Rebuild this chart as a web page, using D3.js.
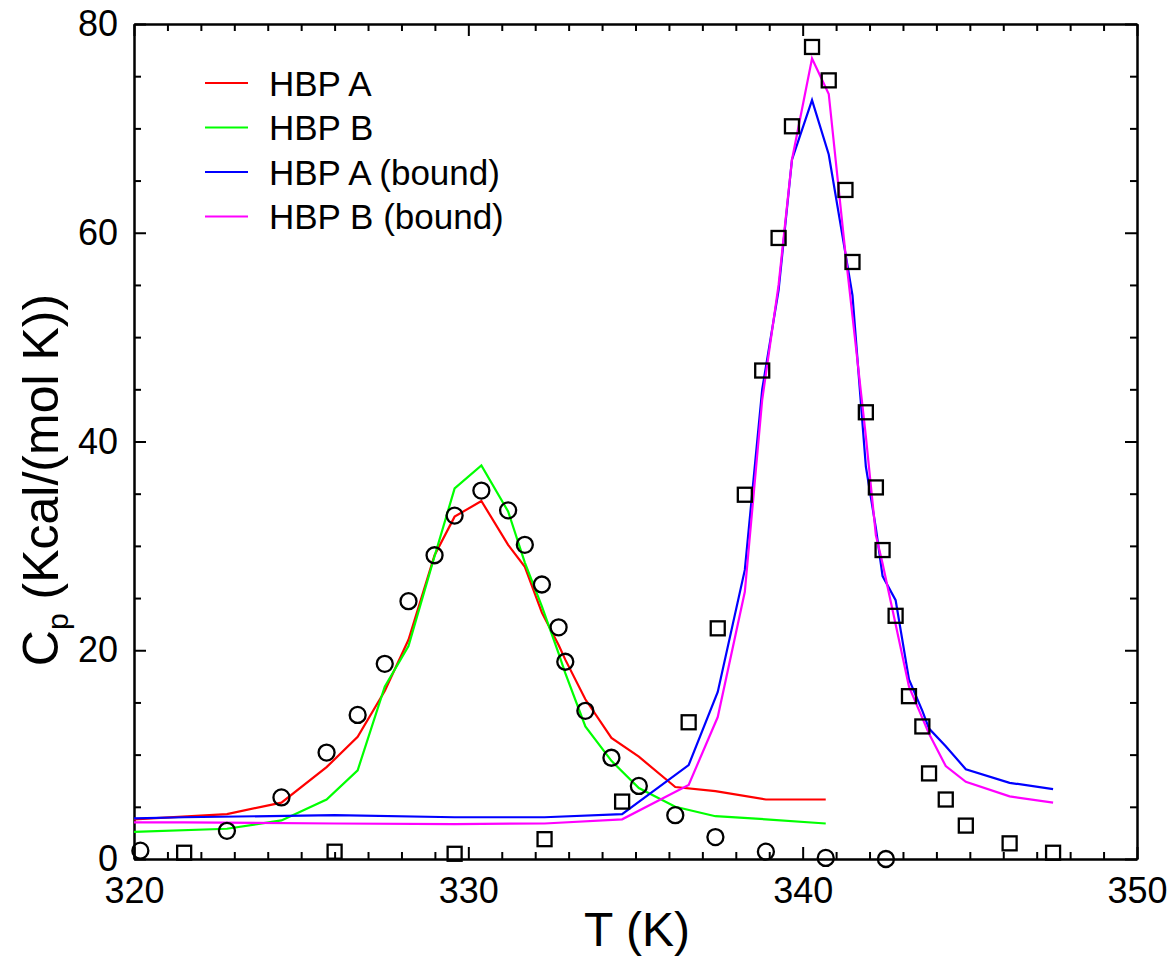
<!DOCTYPE html>
<html lang="en">
<head>
    <meta charset="UTF-8">
    <title>Cp vs T</title>
    <script src="https://d3js.org/d3.v7.min.js"></script>
    <style>
        body { margin: 0; background: white; font-family: Arial, "Liberation Sans", sans-serif; }
        .axis path, .axis line { stroke: black; stroke-width: 2; }
        .axis text { font-size: 36px; font-family: Arial, "Liberation Sans", sans-serif; fill: black; }
    </style>
</head>
<body>
    <svg id="chart" width="1176" height="962"></svg>
    <script>
        // data
        const circleT  = [320.19, 322.78, 324.41, 325.76, 326.69, 327.50, 328.21, 328.99, 329.59, 330.39, 331.19, 331.69, 332.20, 332.70, 332.90, 333.50, 334.28, 335.10, 336.19, 337.39, 338.90, 340.69, 342.49];
        const circleCp = [0.8, 2.7, 5.9, 10.2, 13.8, 18.7, 24.7, 29.1, 32.9, 35.3, 33.4, 30.1, 26.3, 22.2, 18.9, 14.2, 9.7, 7.0, 4.2, 2.1, 0.7, 0.1, 0.0];

        const squareT  = [321.50, 326.00, 329.59, 332.28, 334.60, 336.59, 337.46, 338.27, 338.79, 339.28, 339.68, 340.28, 340.78, 341.28, 341.49, 341.89, 342.19, 342.39, 342.78, 343.18, 343.58, 343.78, 344.28, 344.88, 346.19, 347.49];
        const squareCp = [0.6, 0.7, 0.5, 1.9, 5.5, 13.1, 22.1, 34.9, 46.8, 59.5, 70.2, 77.8, 74.6, 64.1, 57.2, 42.8, 35.6, 29.6, 23.3, 15.6, 12.7, 8.2, 5.7, 3.2, 1.5, 0.6];

        const freeT = [320.0, 322.78, 324.41, 325.76, 326.69, 327.50, 328.21, 328.99, 329.59, 330.39, 331.19, 331.69, 332.20, 332.70, 332.90, 333.50, 334.28, 335.10, 336.19, 337.39, 338.90, 340.69];
        const hbpA = [3.8, 4.3, 5.4, 8.8, 11.7, 16.1, 21.0, 29.1, 32.8, 34.3, 30.1, 28.0, 23.6, 20.5, 19.1, 15.3, 11.6, 9.8, 6.9, 6.5, 5.7, 5.7];
        const hbpB = [2.6, 2.9, 3.7, 5.7, 8.5, 16.5, 20.4, 29.0, 35.5, 37.7, 33.3, 28.4, 24.2, 19.7, 17.8, 12.7, 9.4, 6.8, 5.0, 4.1, 3.8, 3.4];

        const boundT = [320.0, 321.50, 326.00, 329.59, 332.28, 334.60, 336.59, 337.46, 338.27, 338.79, 339.28, 339.68, 340.28, 340.78, 341.28, 341.49, 341.89, 342.19, 342.39, 342.78, 343.18, 343.58, 343.78, 344.28, 344.88, 346.19, 347.49];
        const hbpABound = [3.9, 4.0, 4.2, 4.0, 4.0, 4.3, 9.0, 16.0, 27.7, 45.0, 54.5, 67.0, 72.7, 67.5, 58.0, 54.0, 37.6, 31.7, 27.1, 24.8, 17.2, 14.2, 12.5, 10.8, 8.6, 7.3, 6.7];
        const hbpBBound = [3.5, 3.5, 3.4, 3.35, 3.4, 3.8, 7.1, 13.6, 25.6, 44.0, 55.0, 67.0, 76.7, 73.3, 58.0, 52.0, 40.5, 31.0, 28.3, 22.5, 16.5, 13.5, 12.0, 8.9, 7.4, 6.0, 5.4];

        const seriesNames = ["HBP A", "HBP B", "HBP A (bound)", "HBP B (bound)"];
        const seriesColors = ["#ff0000", "#00ff00", "#0000ff", "#ff00ff"];
        const xTicks = [320, 330, 340, 350];
        const yTicks = [0, 20, 40, 60, 80];

        const series = [
            { name: seriesNames[0], t: freeT, cp: hbpA },
            { name: seriesNames[1], t: freeT, cp: hbpB },
            { name: seriesNames[2], t: boundT, cp: hbpABound },
            { name: seriesNames[3], t: boundT, cp: hbpBBound }
        ];

        let svg = d3.select("#chart");
        const plotLeft = 134, plotRight = 1137, plotTop = 24, plotBottom = 859;

        let x = d3.scaleLinear().domain([320, 350]).range([plotLeft, plotRight]);
        let y = d3.scaleLinear().domain([0, 80]).range([plotBottom, plotTop]);

        const color = d3.scaleOrdinal().domain(seriesNames).range(seriesColors);

        // minor ticks on all four sides
        const xMinor = d3.range(320, 351, 1).filter(v => v % 10 !== 0);
        const yMinor = d3.range(0, 81, 5).filter(v => v % 20 !== 0);

        svg.append("g").attr("class", "axis").attr("transform", `translate(0,${plotBottom})`)
            .call(d3.axisBottom(x).tickValues(xMinor).tickSize(-7).tickSizeOuter(0).tickFormat(""));
        svg.append("g").attr("class", "axis").attr("transform", `translate(0,${plotTop})`)
            .call(d3.axisTop(x).tickValues(xMinor).tickSize(-7).tickSizeOuter(0).tickFormat(""));
        svg.append("g").attr("class", "axis").attr("transform", `translate(${plotLeft},0)`)
            .call(d3.axisLeft(y).tickValues(yMinor).tickSize(-7).tickSizeOuter(0).tickFormat(""));
        svg.append("g").attr("class", "axis").attr("transform", `translate(${plotRight},0)`)
            .call(d3.axisRight(y).tickValues(yMinor).tickSize(-7).tickSizeOuter(0).tickFormat(""));

        // major ticks + labels
        svg.append("g").attr("class", "axis").attr("transform", `translate(0,${plotBottom})`)
            .call(d3.axisBottom(x).tickValues(xTicks).tickSize(-12).tickSizeOuter(0).tickPadding(18));
        svg.append("g").attr("class", "axis").attr("transform", `translate(0,${plotTop})`)
            .call(d3.axisTop(x).tickValues(xTicks).tickSize(-12).tickSizeOuter(0).tickFormat(""));
        svg.append("g").attr("class", "axis").attr("transform", `translate(${plotLeft},0)`)
            .call(d3.axisLeft(y).tickValues(yTicks).tickSize(-12).tickSizeOuter(0).tickPadding(16));
        svg.append("g").attr("class", "axis").attr("transform", `translate(${plotRight},0)`)
            .call(d3.axisRight(y).tickValues(yTicks).tickSize(-12).tickSizeOuter(0).tickFormat(""));

        // lines
        const line = d3.line().x(d => x(d[0])).y(d => y(d[1]));
        series.forEach(s => {
            svg.append("path")
                .datum(s.t.map((t, i) => [t, s.cp[i]]))
                .attr("d", line)
                .attr("fill", "none")
                .attr("stroke", color(s.name))
                .attr("stroke-width", 2.2);
        });

        // circles (free)
        svg.append("g").selectAll("circle")
            .data(circleT.map((t, i) => [t, circleCp[i]]))
            .enter()
            .append("circle")
            .attr("cx", d => x(d[0]))
            .attr("cy", d => y(d[1]))
            .attr("r", 8)
            .attr("fill", "none")
            .attr("stroke", "black")
            .attr("stroke-width", 2.3);

        // squares (bound)
        const sq = 14;
        svg.append("g").selectAll("rect")
            .data(squareT.map((t, i) => [t, squareCp[i]]))
            .enter()
            .append("rect")
            .attr("x", d => x(d[0]) - sq / 2)
            .attr("y", d => y(d[1]) - sq / 2)
            .attr("width", sq)
            .attr("height", sq)
            .attr("fill", "none")
            .attr("stroke", "black")
            .attr("stroke-width", 2.3);

        // legend
        const legend = svg.append("g").attr("transform", "translate(205, 83)");
        seriesNames.forEach((name, i) => {
            legend.append("line")
                .attr("x1", 0).attr("x2", 43)
                .attr("y1", i * 44.5).attr("y2", i * 44.5)
                .attr("stroke", color(name))
                .attr("stroke-width", 2.2);
            legend.append("text")
                .attr("x", 64)
                .attr("y", i * 44.5)
                .attr("dy", "0.36em")
                .attr("font-size", 35)
                .text(name);
        });

        // axis titles
        svg.append("text")
            .attr("x", 637).attr("y", 946)
            .attr("text-anchor", "middle")
            .attr("font-size", 48)
            .text("T (K)");

        const yTitle = svg.append("text")
            .attr("transform", "translate(58, 480) rotate(-90)")
            .attr("text-anchor", "middle")
            .attr("font-size", 50);
        yTitle.append("tspan").text("C");
        yTitle.append("tspan").attr("font-size", 30).attr("dy", 10).text("p");
        yTitle.append("tspan").attr("dy", -10).text(" (Kcal/(mol K))");
    </script>
</body>
</html>
